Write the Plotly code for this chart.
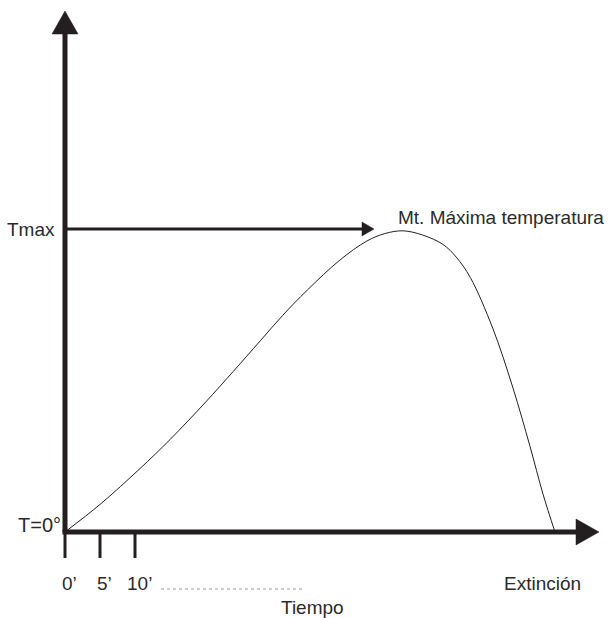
import plotly.graph_objects as go

# Temperature curve of a fire: time (minutes) vs. temperature (% of Tmax)
time_min = [0, 5, 10.7, 15, 20.1, 24, 27.9, 31.1, 34.6, 39.3, 43.1, 45.7,
            48.3, 51.1, 54, 55.9, 57.9, 61.1, 64, 66.4, 68.3, 70]
temp_pct = [0, 9.1, 20.9, 30.5, 42.9, 52.9, 63.1, 71.5, 79.8, 89.8, 96.0, 98.5,
            99.4, 98.0, 94.9, 90.7, 84.0, 67.3, 47.5, 28.5, 12.4, 0]

tick_minutes = [0, 5, 10]
tick_labels = ["0’", "5’", "10’"]
t_max = 100
t_extinction = 70

W, H = 609, 618
# scale: pixel position of the origin and pixels per unit on each axis
X0_PX, PX_PER_MIN = 65, 7.0
Y0_PX, PX_PER_UNIT = 532, 3.03

INK = "#231f20"
TEXT = "#2b2b2b"
FONT = "Liberation Sans, Arial, sans-serif"


def dx(px):
    """Horizontal pixel offset expressed in minutes."""
    return px / PX_PER_MIN


def dy(px):
    """Vertical pixel offset expressed in temperature units."""
    return px / PX_PER_UNIT


x_range = [-dx(X0_PX), dx(W - X0_PX)]
y_range = [-dy(H - Y0_PX), dy(Y0_PX)]

fig = go.Figure()
fig.add_trace(go.Scatter(
    x=time_min, y=temp_pct, mode="lines",
    line=dict(color=INK, width=1.0, shape="spline", smoothing=1.0),
    hoverinfo="skip", showlegend=False,
))

shapes = []


def seg(x0, y0, x1, y1, width, color=INK, dash="solid"):
    shapes.append(dict(type="line", xref="x", yref="y", x0=x0, y0=y0, x1=x1, y1=y1,
                       line=dict(color=color, width=width, dash=dash), layer="above"))


def tri(points):
    path = "M " + " L ".join(f"{px},{py}" for px, py in points) + " Z"
    shapes.append(dict(type="path", xref="x", yref="y", path=path,
                       fillcolor=INK, line=dict(color=INK, width=0.5), layer="above"))


# vertical (temperature) axis with arrowhead
y_top = dy(Y0_PX - 34)
seg(0, 0, 0, y_top, 5)
tri([(-dx(13), y_top), (dx(13), y_top), (0, dy(Y0_PX - 11))])

# horizontal (time) axis with arrowhead
x_end = dx(576 - X0_PX)
seg(-dx(2.5), 0, x_end, 0, 5)
tri([(x_end, dy(13)), (x_end, -dy(13)), (dx(599 - X0_PX), 0)])

# minute ticks below the time axis
for m in tick_minutes:
    seg(m, 0, m, -dy(26), 3)

# Tmax arrow pointing to the maximum
x_head = dx(362 - X0_PX)
seg(dx(2), t_max, x_head, t_max, 3)
tri([(x_head, t_max + dy(7)), (x_head, t_max - dy(7)), (dx(374 - X0_PX), t_max)])

# dotted continuation of the time scale
seg(dx(161 - X0_PX), -dy(57), dx(302 - X0_PX), -dy(57), 1, color="#9a9a9a", dash="dot")

annotations = []


def label(text, x, y, xanchor="center", size=19):
    annotations.append(dict(text=text, x=x, y=y, xref="x", yref="y", showarrow=False,
                            xanchor=xanchor, yanchor="middle",
                            font=dict(family=FONT, size=size, color=TEXT)))


label("Tmax", -dx(8), t_max, xanchor="right")
label("T=0°", -dx(2), dy(7), xanchor="right", size=20)
for m, t in zip(tick_minutes, tick_labels):
    label(t, m + dx(4), -dy(51))
label("Extinción", t_extinction - dx(13), -dy(51))
label("Tiempo", dx(312 - X0_PX), -dy(75))
label("Mt. Máxima temperatura", dx(396 - X0_PX), t_max + dy(12), xanchor="left")

fig.update_layout(
    width=W, height=H, margin=dict(l=0, r=0, t=0, b=0),
    paper_bgcolor="white", plot_bgcolor="white",
    xaxis=dict(range=x_range, visible=False, fixedrange=True),
    yaxis=dict(range=y_range, visible=False, fixedrange=True),
    shapes=shapes, annotations=annotations, showlegend=False,
)

fig.write_html("out.html")
